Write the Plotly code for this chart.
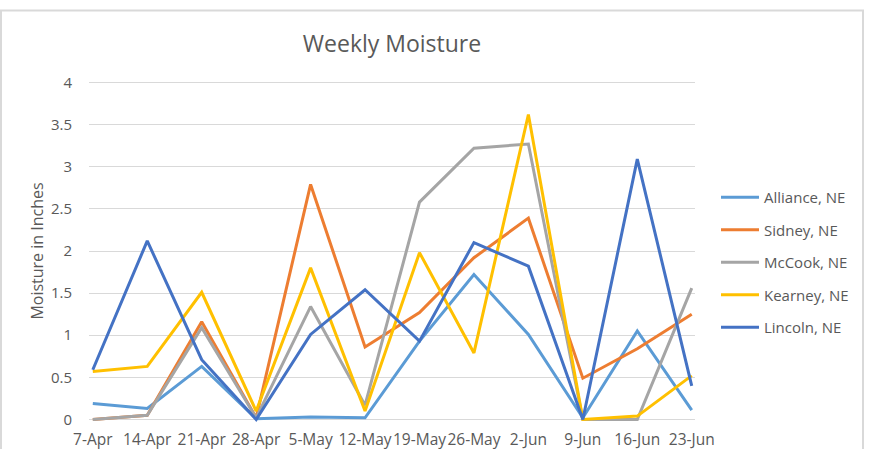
import plotly.graph_objects as go

weeks = ["7-Apr", "14-Apr", "21-Apr", "28-Apr", "5-May", "12-May", "19-May",
         "26-May", "2-Jun", "9-Jun", "16-Jun", "23-Jun"]

alliance = [0.19, 0.13, 0.63, 0.01, 0.03, 0.02, 0.93, 1.72, 1.01, 0.02, 1.05, 0.11]
sidney = [0.00, 0.05, 1.16, 0.02, 2.79, 0.86, 1.27, 1.92, 2.39, 0.49, 0.84, 1.25]
mccook = [0.00, 0.05, 1.09, 0.02, 1.34, 0.17, 2.58, 3.22, 3.27, 0.00, 0.00, 1.56]
kearney = [0.57, 0.63, 1.51, 0.10, 1.80, 0.10, 1.98, 0.79, 3.62, 0.00, 0.04, 0.52]
lincoln = [0.59, 2.12, 0.71, 0.00, 1.01, 1.54, 0.93, 2.10, 1.82, 0.00, 3.09, 0.40]

series_names = ["Alliance, NE", "Sidney, NE", "McCook, NE", "Kearney, NE", "Lincoln, NE"]
series_values = [alliance, sidney, mccook, kearney, lincoln]
colors = ["#5B9BD5", "#ED7D31", "#A5A5A5", "#FFC000", "#4472C4"]

y_ticks = [0, 0.5, 1, 1.5, 2, 2.5, 3, 3.5, 4]
y_tick_labels = ["0", "0.5", "1", "1.5", "2", "2.5", "3", "3.5", "4"]

FONT = "Open Sans, Calibri, Arial, sans-serif"
TXT = "#595959"

fig = go.Figure()
xs = list(range(len(weeks)))
for name, vals, col in zip(series_names, series_values, colors):
    fig.add_trace(go.Scatter(
        x=xs, y=vals, mode="lines", name=name, legendgroup=name,
        line=dict(color=col, width=3),
    ))

W, H = 872, 449
ml, mr, mt, mb = 89, 177, 80, 27
pw, ph = W - ml - mr, H - mt - mb

def px_x(p):
    return (p - ml) / pw

def px_y(p):
    return (H - mb - p) / ph

fig.update_layout(
    width=W, height=H,
    margin=dict(l=ml, r=mr, t=mt, b=mb, autoexpand=False),
    paper_bgcolor="white", plot_bgcolor="white",
    font=dict(family=FONT, color=TXT, size=14),
    title=dict(text="Weekly Moisture", x=0.5, xanchor="center",
               y=1 - 44 / H, yanchor="middle", xref="paper",
               font=dict(size=23, color=TXT, family=FONT)),
    xaxis=dict(range=[-0.07, 11.06], tickmode="array", tickvals=xs, ticktext=weeks,
               showgrid=False, zeroline=False, showline=False, ticks="",
               automargin=False, tickangle=0,
               tickfont=dict(size=15.5, color=TXT), ticklabelstandoff=6),
    yaxis=dict(range=[-0.03, 4.03], tickmode="array", tickvals=y_ticks,
               ticktext=y_tick_labels, showgrid=True, gridcolor="#D9D9D9",
               gridwidth=1, zeroline=False, showline=False, ticks="",
               ticklabelstandoff=16, automargin=False,
               tickfont=dict(size=15, color=TXT),
               title=dict(text="Moisture in Inches", font=dict(size=16, color=TXT),
                          standoff=3)),
    legend=dict(xref="container", yref="container", x=716 / W, y=1 - 181 / H,
                xanchor="left", yanchor="top", tracegroupgap=10,
                font=dict(size=15, color=TXT), bgcolor="rgba(0,0,0,0)",
                itemwidth=38),
    showlegend=True,
    shapes=[dict(type="rect", xref="paper", yref="paper",
                 x0=px_x(1), x1=px_x(863), y0=px_y(460), y1=px_y(10.5),
                 line=dict(color="#D9D9D9", width=2), fillcolor="rgba(0,0,0,0)",
                 layer="below")],
)

fig.write_html("out.html", config={"displayModeBar": False},
               post_script="document.body.style.margin='0';")
